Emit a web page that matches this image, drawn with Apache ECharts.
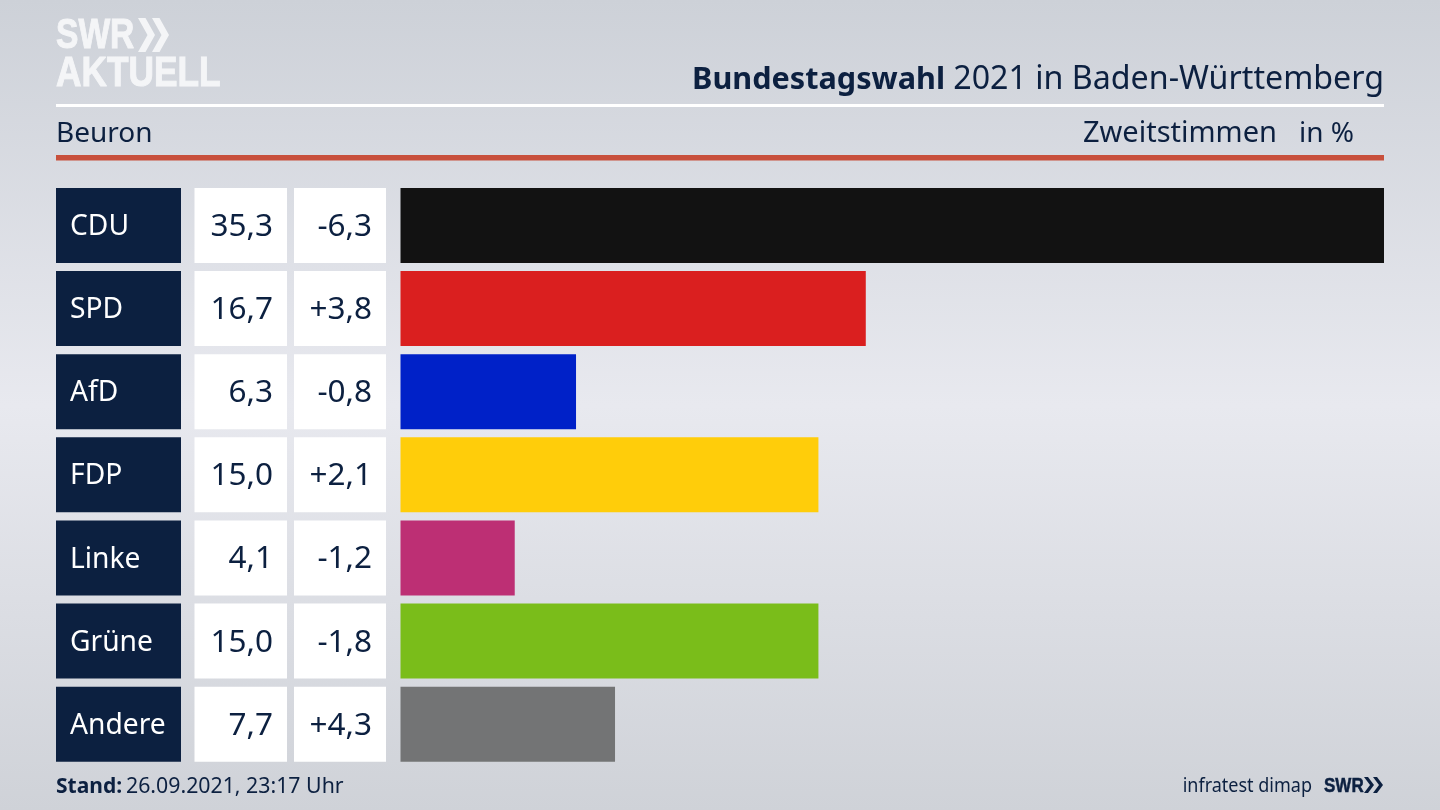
<!DOCTYPE html>
<html>
<head>
<meta charset="utf-8">
<style>html,body{margin:0;padding:0;background:#dfe1e7}#chart{width:1440px;height:810px}</style>
<script src="https://cdn.jsdelivr.net/npm/echarts@6/dist/echarts.min.js"></script>
</head>
<body>
<div id="chart"></div>
<script>
var parties = ['CDU', 'SPD', 'AfD', 'FDP', 'Linke', 'Grüne', 'Andere'];
var shares = [35.3, 16.7, 6.3, 15.0, 4.1, 15.0, 7.7];
var changes = ['-6,3', '+3,8', '-0,8', '+2,1', '-1,2', '-1,8', '+4,3'];
var partyColors = ['#121212', '#da1f1f', '#0021c8', '#ffcd0a', '#bd2f74', '#7abd1a', '#737475'];

var NAVY = '#0c2040';
var FONT = '"Noto Sans", sans-serif';
var LOGO_FONT = '"Liberation Sans", sans-serif';
var LOGO_WHITE = '#f4f5f7';
var gridTop = 183.9, gridBottom = 44.2;

function comma(v) {
    return v.toFixed(1).replace('.', ',');
}

// one grid per table column, all with the same rows
function column(left, right) {
    return {left: left, right: right, top: gridTop, bottom: gridBottom};
}

function cellSeries(idx, color, textColor, pos, size, texts) {
    return {
        type: 'bar',
        xAxisIndex: idx,
        yAxisIndex: idx,
        barWidth: 75,
        silent: true,
        data: texts.map(function () { return 1; }),
        itemStyle: {color: color},
        label: {
            show: true,
            position: pos,
            distance: 14,
            offset: [0, 1.5],
            color: textColor,
            fontFamily: FONT,
            fontSize: size,
            formatter: function (p) { return texts[p.dataIndex]; }
        }
    };
}

function text(x, y, str, size, opt) {
    opt = opt || {};
    return {
        type: 'text',
        x: x,
        y: y,
        scaleX: opt.scaleX || 1,
        style: {
            text: str,
            fontFamily: opt.family || FONT,
            fontSize: size,
            fontWeight: opt.weight || 'normal',
            fill: opt.color || NAVY,
            stroke: opt.stroke ? (opt.color || NAVY) : null,
            lineWidth: opt.stroke || 0,
            align: opt.align || 'left',
            verticalAlign: 'middle'
        }
    };
}

function chevron(x, y, w, h, thick, color) {
    return {
        type: 'polygon',
        shape: {points: [[x, y], [x + thick, y], [x + w, y + h / 2], [x + thick, y + h], [x, y + h], [x + w - thick, y + h / 2]]},
        style: {fill: color}
    };
}

function line(y, h, color) {
    return {type: 'rect', shape: {x: 56, y: y, width: 1328, height: h}, style: {fill: color}};
}

var grids = [column(56, 1259), column(194.5, 1153), column(294, 1054), column(400.5, 56)];
var yAxes = grids.map(function (g, i) {
    return {type: 'category', gridIndex: i, inverse: true, data: parties, show: false};
});
var xAxes = grids.map(function (g, i) {
    return {type: 'value', gridIndex: i, min: 0, max: i === 3 ? 35.3 : 1, show: false};
});

var chart = echarts.init(document.getElementById('chart'));
chart.setOption({
    animation: false,
    backgroundColor: {
        type: 'linear', x: 0, y: 0, x2: 0, y2: 1,
        colorStops: [
            {offset: 0, color: '#cdd1d8'},
            {offset: 0.5, color: '#e8e9ef'},
            {offset: 1, color: '#cfd2d8'}
        ]
    },
    grid: grids,
    xAxis: xAxes,
    yAxis: yAxes,
    series: [
        cellSeries(0, NAVY, '#ffffff', 'insideLeft', 28.2, parties),
        cellSeries(1, '#ffffff', NAVY, 'insideRight', 31.5, shares.map(comma)),
        cellSeries(2, '#ffffff', NAVY, 'insideRight', 31.5, changes),
        {
            type: 'bar',
            xAxisIndex: 3,
            yAxisIndex: 3,
            barWidth: 75,
            silent: true,
            data: shares.map(function (v, i) {
                return {value: v, itemStyle: {color: partyColors[i]}};
            })
        }
    ],
    graphic: [
        text(56, 36.5, 'SWR', 42, {weight: 'bold', color: LOGO_WHITE, family: LOGO_FONT, scaleX: 0.8, stroke: 1}),
        chevron(138, 18, 17, 34, 7.5, LOGO_WHITE),
        chevron(152, 18, 17, 34, 7.5, LOGO_WHITE),
        text(56, 74.5, 'AKTUELL', 42, {weight: 'bold', color: LOGO_WHITE, family: LOGO_FONT, scaleX: 0.84, stroke: 1}),
        line(104, 3, '#ffffff'),
        line(155, 5.5, '#c8503c'),
        text(1384, 80, '2021 in Baden-Württemberg', 32.2, {align: 'right'}),
        text(945, 80, 'Bundestagswahl', 30.6, {align: 'right', weight: 'bold'}),
        text(56, 134, 'Beuron', 28),
        text(1277, 134, 'Zweitstimmen', 29, {align: 'right'}),
        text(1354, 134, 'in %', 28, {align: 'right'}),
        text(56, 787, 'Stand:', 21, {weight: 'bold'}),
        text(126, 787, '26.09.2021, 23:17 Uhr', 21.3),
        text(1312, 786, 'infratest dimap', 20, {align: 'right', scaleX: 0.9}),
        text(1324, 786, 'SWR', 20, {weight: 'bold', family: LOGO_FONT, scaleX: 0.85, stroke: 0.5}),
        chevron(1364, 777, 10, 16, 4, NAVY),
        chevron(1373, 777, 10, 16, 4, NAVY)
    ]
});
</script>
</body>
</html>
